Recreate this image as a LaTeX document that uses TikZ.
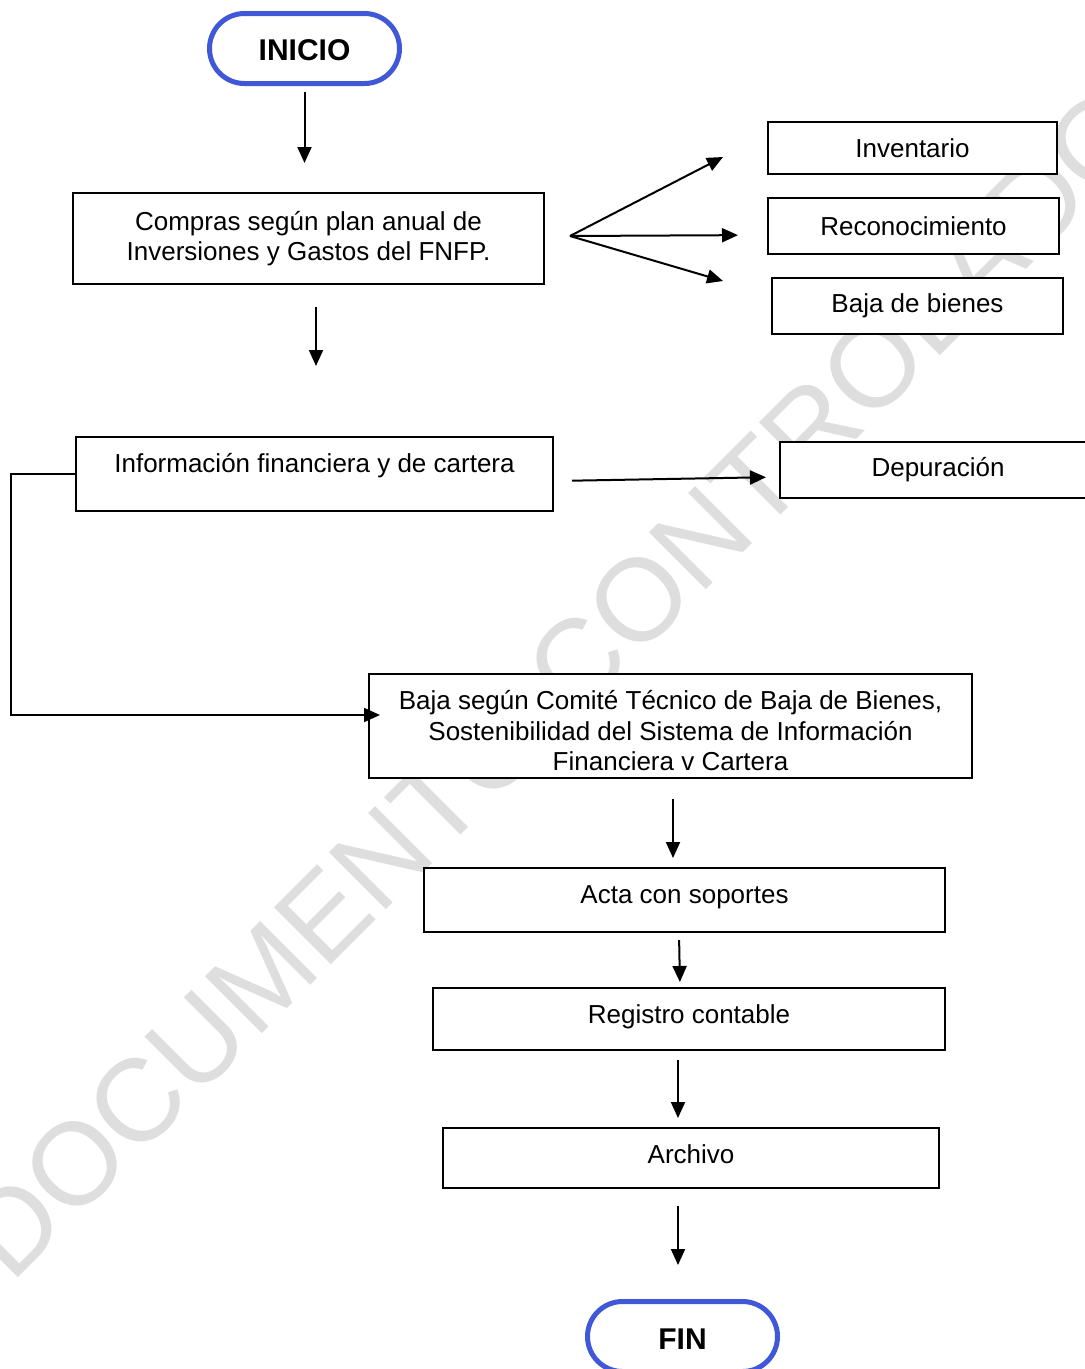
\documentclass[tikz,border=0pt]{standalone}
\usepackage{fontspec}
\setmainfont{Liberation Sans}
\usetikzlibrary{arrows.meta}
\definecolor{inicioazul}{RGB}{64,88,216}
\definecolor{marcagris}{RGB}{222,222,222}

\begin{document}
\begin{tikzpicture}[x=1pt,y=-1pt,
  caja/.style={draw, fill=white, line width=2pt, inner sep=0pt, align=center,
    font=\fontsize{26}{30.5}\selectfont},
  terminal/.style={draw=inicioazul, fill=white, line width=5pt, rounded corners=35pt,
    minimum width=190pt, minimum height=70pt, text height=25pt,
    font=\fontsize{30}{34}\selectfont\bfseries},
  flecha/.style={-{Triangle[length=16pt,width=14pt]}, line width=2pt}]
\useasboundingbox (0,0) rectangle (1085,1369);
\node[rotate=45, text=marcagris, font=\fontsize{117}{117}\selectfont] (marca) at (557,682) {DOCUMENTO CONTROLADO};

\node[terminal] (inicio) at (304.5,48.5) {INICIO};
\node[caja, minimum width=471pt, minimum height=91pt] (compras) at (308.5,238.5)
  {Compras según plan anual de\\Inversiones y Gastos del FNFP.};
\node[caja, minimum width=289pt, minimum height=52pt] (inv) at (912.5,148) {Inventario};
\node[caja, minimum width=291pt, minimum height=56pt] (rec) at (913.5,226) {Reconocimiento};
\node[caja, minimum width=291pt, minimum height=56pt] (bdb) at (917.5,306) {Baja de bienes};
\node[caja, minimum width=477pt, minimum height=74pt, text depth=22pt] (info) at (314.5,474)
  {Información financiera y de cartera};
\node[caja, minimum width=316pt, minimum height=56pt] (dep) at (938,470) {Depuración};
\node[caja, minimum width=603pt, minimum height=104pt, text height=90pt] (baja) at (670.5,726)
  {Baja según Comité Técnico de Baja de Bienes,\\Sostenibilidad del Sistema de Información\\Financiera v Cartera};
\node[caja, minimum width=521pt, minimum height=64pt, text depth=11.5pt] (acta) at (684.5,900) {Acta con soportes};
\node[caja, minimum width=512pt, minimum height=62pt, text depth=9.5pt] (reg) at (689,1019) {Registro contable};
\node[caja, minimum width=496pt, minimum height=60pt, text depth=8pt] (arch) at (691,1158) {Archivo};
\node[terminal] (fin) at (682.5,1336.5) {FIN};

\coordinate (fan) at (570,236);
\foreach \n/\s/\l in {inv/13.7/49.5, rec/-9/29, bdb/10.9/50}
  \draw[flecha, shorten >=\l pt] (fan) -- ([yshift=\s pt]\n.west);

\draw[flecha, shorten <=6pt, shorten >=29pt] (inicio.south) -- (inicio.south |- compras.north);
\draw[flecha, shorten <=22pt, shorten >=70pt] ([xshift=7.5pt]compras.south) -- ([xshift=1.5pt]info.north);
\draw[flecha, shorten <=18pt, shorten >=13pt] ([yshift=-7pt]info.east) -- ([yshift=-7pt]dep.west);
\draw[flecha] (info.west) -- ++(-64,0) |- ([xshift=12pt,yshift=11pt]baja.west);
\draw[flecha, shorten <=20pt, shorten >=9pt] ([xshift=2.5pt]baja.south) -- ([xshift=-11.5pt]acta.north);
\draw[flecha, shorten <=7pt, shorten >=5pt] ([xshift=-5.5pt]acta.south) -- ([xshift=-9pt]reg.north);
\draw[flecha, shorten <=9pt, shorten >=9pt] ([xshift=-11pt]reg.south) -- ([xshift=-13pt]arch.north);
\draw[flecha, shorten <=17pt, shorten >=34pt] ([xshift=-13pt]arch.south) -- ([xshift=-4.5pt]fin.north);
\end{tikzpicture}
\end{document}
